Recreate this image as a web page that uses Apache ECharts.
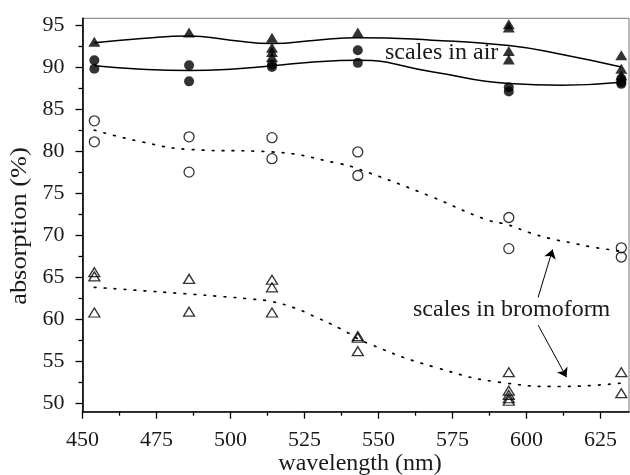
<!DOCTYPE html>
<html>
<head>
<meta charset="utf-8">
<script src="https://cdn.jsdelivr.net/npm/echarts@6/dist/echarts.min.js"></script>
<style>
html,body{margin:0;padding:0;background:#fff;}
#chart{width:630px;height:475px;}
</style>
</head>
<body>
<div id="chart"></div>
<script>
// ---- data ----
var wavelengths = [454, 486, 514, 543, 594, 632];

// measured points per wavelength
var airTriangles = [[93.0], [94.1], [93.5, 92.3, 91.8, 91.2], [94.1], [95.1, 94.7, 91.9, 90.9], [91.4, 89.8, 89.0]];
var airCircles = [[90.8, 89.8], [90.2, 88.3], [90.3, 90.0], [92.0, 90.5], [87.6, 87.1], [88.6, 88.2, 88.0]];
var bromoCircles = [[83.6, 81.1], [81.7, 77.5], [81.6, 79.1], [79.9, 77.1], [72.1, 68.4], [68.5, 67.4]];
var bromoTriangles = [[65.6, 65.1, 60.8], [64.8, 60.9], [64.7, 63.8, 60.8], [58.0, 57.8, 56.2], [53.7, 51.5, 51.0, 50.6, 50.3], [53.7, 51.2]];

// fitted curves
var airTriCurveX = [454, 470, 486, 500, 514, 529, 543, 568, 594, 612, 632];
var airTriCurveY = [92.9, 93.4, 93.7, 93.2, 92.8, 93.2, 93.5, 93.2, 92.55, 91.5, 90.0];
var airCirCurveX = [454, 470, 486, 500, 514, 528, 543, 568, 594, 612, 632];
var airCirCurveY = [90.15, 89.75, 89.6, 89.75, 90.15, 90.6, 90.8, 89.45, 88.05, 87.85, 88.2];
var broCirCurveX = [454, 470, 486, 514, 537, 543, 567, 586, 594, 601, 608, 615, 622, 632];
var broCirCurveY = [82.5, 81.1, 80.2, 79.9, 78.5, 77.9, 74.7, 71.9, 71.2, 70.3, 69.6, 69.1, 68.6, 68.1];
var broTriCurveX = [454, 486, 497, 507, 514, 522, 526, 537, 546, 569, 593, 611, 632];
var broTriCurveY = [63.8, 63.0, 62.7, 62.4, 62.1, 61.3, 60.7, 58.9, 57.2, 54.3, 52.4, 52.0, 52.4];

// annotation arrows (data coordinates): [from, to]
var arrowUpper = [[603.9, 62.6], [608.8, 68.3]];
var arrowLower = [[603.9, 59.3], [613.5, 53.1]];

// axis ticks
var xMajor = [450, 475, 500, 525, 550, 575, 600, 625];
var xMinor = [462.5, 487.5, 512.5, 537.5, 562.5, 587.5, 612.5];
var yMajor = [50, 55, 60, 65, 70, 75, 80, 85, 90, 95];
var yMinor = [52.5, 57.5, 62.5, 67.5, 72.5, 77.5, 82.5, 87.5, 92.5];

var xMin = 450, xMax = 634.6, yMin = 49.0, yMax = 95.8;

function pairs(xs, groups) {
  var out = [];
  for (var i = 0; i < xs.length; i++) {
    for (var j = 0; j < groups[i].length; j++) out.push([xs[i], groups[i][j]]);
  }
  return out;
}
function zip(xs, ys) {
  return xs.map(function (x, i) { return [x, ys[i]]; });
}

var FONT = 'Liberation Serif';
var INK = '#000';
var chart = echarts.init(document.getElementById('chart'), null, {renderer: 'canvas'});

function xAxisBase(extra) {
  return Object.assign({
    type: 'value', min: xMin, max: xMax, position: 'bottom',
    splitLine: {show: false}
  }, extra);
}
function yAxisBase(extra) {
  return Object.assign({
    type: 'value', min: yMin, max: yMax, position: 'left',
    splitLine: {show: false}
  }, extra);
}

var option = {
  animation: false,
  backgroundColor: '#fff',
  grid: {left: 82.5, right: 1, top: 18.3, bottom: 63.3, show: true, borderColor: '#777', borderWidth: 1, containLabel: false},
  xAxis: [
    xAxisBase({
      axisLine: {show: true, onZero: false, lineStyle: {color: INK, width: 1.6}},
      axisTick: {show: true, inside: false, length: 7, customValues: xMajor, lineStyle: {color: INK, width: 1.3}},
      axisLabel: {show: true, customValues: xMajor, margin: 18, fontFamily: FONT, fontSize: 22, color: '#1a1a1a'}
    }),
    xAxisBase({
      axisLine: {show: false, onZero: false},
      axisTick: {show: true, inside: false, length: 4, customValues: xMinor, lineStyle: {color: INK, width: 1.3}},
      axisLabel: {show: false}
    })
  ],
  yAxis: [
    yAxisBase({
      axisLine: {show: true, onZero: false, lineStyle: {color: INK, width: 1.6}},
      axisTick: {show: true, inside: false, length: 7, customValues: yMajor, lineStyle: {color: INK, width: 1.3}},
      axisLabel: {show: true, customValues: yMajor, margin: 18, fontFamily: FONT, fontSize: 22, color: '#1a1a1a'}
    }),
    yAxisBase({
      axisLine: {show: false, onZero: false},
      axisTick: {show: true, inside: false, length: 4, customValues: yMinor, lineStyle: {color: INK, width: 1.3}},
      axisLabel: {show: false}
    })
  ],
  series: [
    {type: 'line', data: zip(airTriCurveX, airTriCurveY), smooth: 0.5, showSymbol: false, symbol: 'none',
      lineStyle: {color: INK, width: 1.5}, z: 2},
    {type: 'line', data: zip(airCirCurveX, airCirCurveY), smooth: 0.5, showSymbol: false, symbol: 'none',
      lineStyle: {color: INK, width: 1.5}, z: 2},
    {type: 'line', data: zip(broCirCurveX, broCirCurveY), smooth: 0.5, showSymbol: false, symbol: 'none',
      lineStyle: {color: INK, width: 1.7, type: [1.7, 8.3], cap: 'round'}, z: 2},
    {type: 'line', data: zip(broTriCurveX, broTriCurveY), smooth: 0.5, showSymbol: false, symbol: 'none',
      lineStyle: {color: INK, width: 1.7, type: [1.7, 8.3], cap: 'round'}, z: 2,
      markLine: {
        silent: true, symbol: ['none', 'arrow'], symbolSize: 9, label: {show: false},
        lineStyle: {color: INK, width: 1, type: 'solid'},
        data: [
          [{coord: arrowUpper[0]}, {coord: arrowUpper[1]}],
          [{coord: arrowLower[0]}, {coord: arrowLower[1]}]
        ]
      }},
    {type: 'scatter', data: pairs(wavelengths, airTriangles), symbol: 'triangle', symbolSize: [12, 10],
      itemStyle: {color: INK}, z: 3},
    {type: 'scatter', data: pairs(wavelengths, airCircles), symbol: 'circle', symbolSize: 10,
      itemStyle: {color: INK}, z: 3},
    {type: 'scatter', data: pairs(wavelengths, bromoCircles), symbol: 'circle', symbolSize: 10,
      itemStyle: {color: 'rgba(255,255,255,0)', borderColor: INK, borderWidth: 1.3}, z: 3},
    {type: 'scatter', data: pairs(wavelengths, bromoTriangles), symbol: 'triangle', symbolSize: [11, 9],
      itemStyle: {color: 'rgba(255,255,255,0)', borderColor: INK, borderWidth: 1.3}, z: 3}
  ],
  graphic: [
    {type: 'text', left: 385, top: 41, z: 10,
      style: {text: 'scales in air', fontFamily: FONT, fontSize: 24, fill: '#1a1a1a'}},
    {type: 'text', left: 413, top: 298, z: 10,
      style: {text: 'scales in bromoform', fontFamily: FONT, fontSize: 24, fill: '#1a1a1a'}},
    {type: 'text', x: 360, y: 464, z: 10,
      style: {text: 'wavelength (nm)', fontFamily: FONT, fontSize: 24, fill: '#1a1a1a', align: 'center', verticalAlign: 'middle'}},
    {type: 'text', x: 20, y: 226, rotation: Math.PI / 2, scaleX: 1.1, z: 10,
      style: {text: 'absorption (%)', fontFamily: FONT, fontSize: 24, fill: '#1a1a1a', align: 'center', verticalAlign: 'middle'}}
  ]
};
chart.setOption(option);
</script>
</body>
</html>
